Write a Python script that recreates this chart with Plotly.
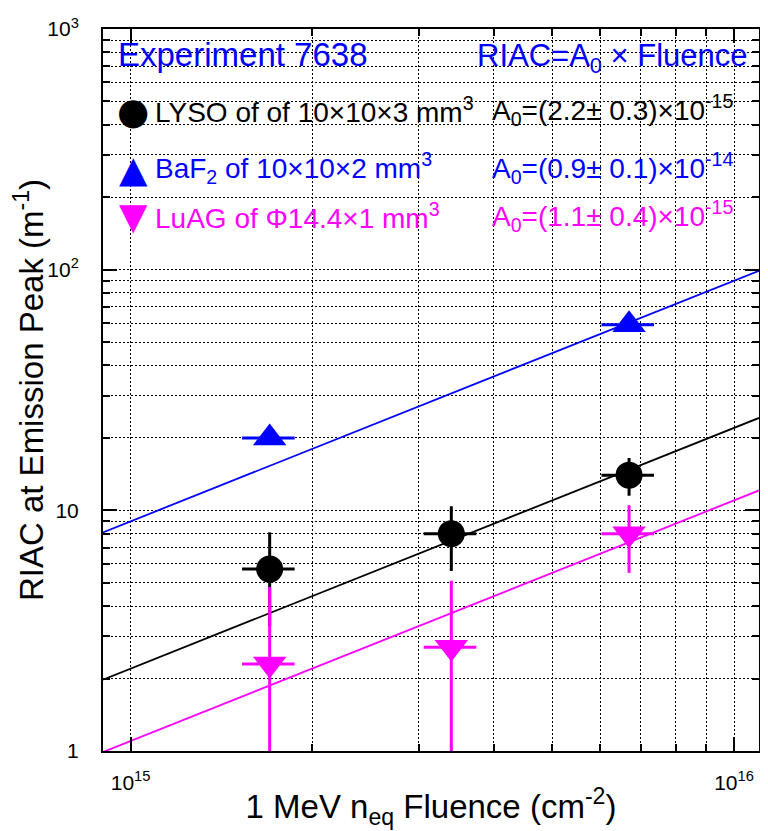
import numpy as np
import plotly.graph_objects as go

# ---------------- data ----------------
fluence_lyso = [1.7e15, 3.4e15, 6.7e15]
riac_lyso = [5.7, 8.0, 14.0]
riac_lyso_err = [2.4, 2.4, 2.5]
fluence_lyso_err = [0.17e15, 0.34e15, 0.67e15]

fluence_baf2 = [1.7e15, 6.7e15]
riac_baf2 = [20.0, 59.0]
riac_baf2_err = [1.0, 3.0]
fluence_baf2_err = [0.17e15, 0.67e15]

fluence_luag = [1.7e15, 3.4e15, 6.7e15]
riac_luag = [2.3, 2.7, 8.0]
riac_luag_err = [2.5, 2.4, 2.5]
fluence_luag_err = [0.17e15, 0.34e15, 0.67e15]

# fit slopes A0 (RIAC = A0 x Fluence)
a0_lyso = 2.2e-15
a0_baf2 = 0.9e-14
a0_luag = 1.1e-15

x_range = [9e14, 1.1e16]
y_range = [1, 1000]

legend_rows = [
    ("LYSO of of 10×10×3 mm<sup>3</sup>", "A<sub>0</sub>=(2.2± 0.3)×10<sup>-15</sup>"),
    ("BaF<sub>2</sub> of 10×10×2 mm<sup>3</sup>", "A<sub>0</sub>=(0.9± 0.1)×10<sup>-14</sup>"),
    ("LuAG of Φ14.4×1 mm<sup>3</sup>", "A<sub>0</sub>=(1.1± 0.4)×10<sup>-15</sup>"),
]

BLACK = "#000000"
BLUE = "#0000ff"
MAGENTA = "#ff00ff"
FONT = "Liberation Sans, Arial, sans-serif"

fig = go.Figure()

# fit lines
x_fit = np.array(x_range)
for a0, col in [(a0_baf2, BLUE), (a0_lyso, BLACK), (a0_luag, MAGENTA)]:
    fig.add_trace(go.Scatter(x=x_fit, y=a0 * x_fit, mode="lines",
                             line=dict(color=col, width=1.8), showlegend=False,
                             hoverinfo="skip"))

def data_trace(x, y, ex, ey, col, symbol, size):
    return go.Scatter(
        x=x, y=y, mode="markers",
        marker=dict(color=col, symbol=symbol, size=size, line=dict(width=0)),
        error_x=dict(type="data", array=ex, color=col, thickness=3, width=0),
        error_y=dict(type="data", array=ey, color=col, thickness=3, width=0),
        showlegend=False,
    )

fig.add_trace(data_trace(fluence_lyso, riac_lyso, fluence_lyso_err, riac_lyso_err, BLACK, "circle", 27))
fig.add_trace(data_trace(fluence_baf2, riac_baf2, fluence_baf2_err, riac_baf2_err, BLUE, "triangle-up", 29))
fig.add_trace(data_trace(fluence_luag, riac_luag, fluence_luag_err, riac_luag_err, MAGENTA, "triangle-down", 29))

grid = dict(showgrid=True, gridcolor="#000000", gridwidth=1, griddash="2px,2px")

x_minor = [9e14] + [k * 1e15 for k in range(2, 10)]
y_minor = [k * 10 ** d for d in range(0, 3) for k in range(2, 10)]

fig.update_xaxes(
    type="log", range=[np.log10(x_range[0]), np.log10(x_range[1])],
    tickvals=[1e15, 1e16], ticktext=["10<sup>15</sup>", "10<sup>16</sup>"],
    ticks="inside", ticklen=14, tickwidth=1.5, tickcolor="black",
    showline=True, linewidth=2, linecolor="black", mirror="ticks",
    tickfont=dict(family=FONT, size=21, color="black"),
    ticklabelstandoff=12,
    zeroline=False, automargin=False,
    minor=dict(tickvals=x_minor, ticks="inside", ticklen=7, tickwidth=1.5,
               tickcolor="black", **grid),
    title=dict(text="1 MeV n<sub>eq</sub> Fluence (cm<sup>-2</sup>)",
               font=dict(family=FONT, size=33, color="black"), standoff=2),
    **grid,
)
fig.update_yaxes(
    type="log", range=[0, 3],
    tickvals=[1, 10, 100, 1000], ticktext=["1", "10", "10<sup>2</sup>", "10<sup>3</sup>"],
    ticks="inside", ticklen=14, tickwidth=1.5, tickcolor="black",
    showline=True, linewidth=2, linecolor="black", mirror="ticks",
    tickfont=dict(family=FONT, size=21, color="black"),
    ticklabelstandoff=18,
    zeroline=False, automargin=False,
    minor=dict(tickvals=y_minor, ticks="inside", ticklen=7, tickwidth=1.5,
               tickcolor="black", **grid),
    title=dict(text="RIAC at Emission Peak (m<sup>-1</sup>)",
               font=dict(family=FONT, size=33, color="black"), standoff=2),
    **grid,
)

# the page body has an 8px margin, so the figure is drawn 8px right/down
OFF = 8
W, H = 768 - OFF, 831 - OFF
L, R, T, B = 103 - OFF, 9, 29 - OFF, 80
PX0, PX1, PY0, PY1 = 103, 759, 29, 751  # plot area in screen pixels

def px(xp):
    return (xp - PX0) / (PX1 - PX0)

def py(yp):
    return (PY1 - yp) / (PY1 - PY0)

ann = []
ann.append(dict(text="Experiment 7638", x=px(116), y=py(55), xanchor="left", yanchor="middle",
                font=dict(family=FONT, size=33, color=BLUE)))
ann.append(dict(text="RIAC=A<sub>0</sub> × Fluence", x=px(750), y=py(58), xanchor="right", yanchor="middle",
                font=dict(family=FONT, size=31, color=BLUE)))

row_y = [113, 171, 219]
row_col = [BLACK, BLUE, MAGENTA]
glyphs = ["●", "▲", "▼"]
for (label, a0txt), yy, col, g in zip(legend_rows, row_y, row_col, glyphs):
    ann.append(dict(text=g, x=px(133), y=py(yy - 2), xanchor="center", yanchor="middle",
                    font=dict(family="DejaVu Sans", size=37, color=col)))
    ann.append(dict(text=label, x=px(153), y=py(yy - 3), xanchor="left", yanchor="middle",
                    font=dict(family=FONT, size=28, color=col)))
    ann.append(dict(text=a0txt, x=px(490), y=py(yy - 3), xanchor="left", yanchor="middle",
                    font=dict(family=FONT, size=28, color=col)))

for a in ann:
    a.update(xref="paper", yref="paper", showarrow=False)

fig.update_layout(
    width=W, height=H, margin=dict(l=L, r=R, t=T, b=B),
    plot_bgcolor="white", paper_bgcolor="white",
    annotations=ann, showlegend=False,
    font=dict(family=FONT, color="black"),
)

fig.write_html("out.html")
